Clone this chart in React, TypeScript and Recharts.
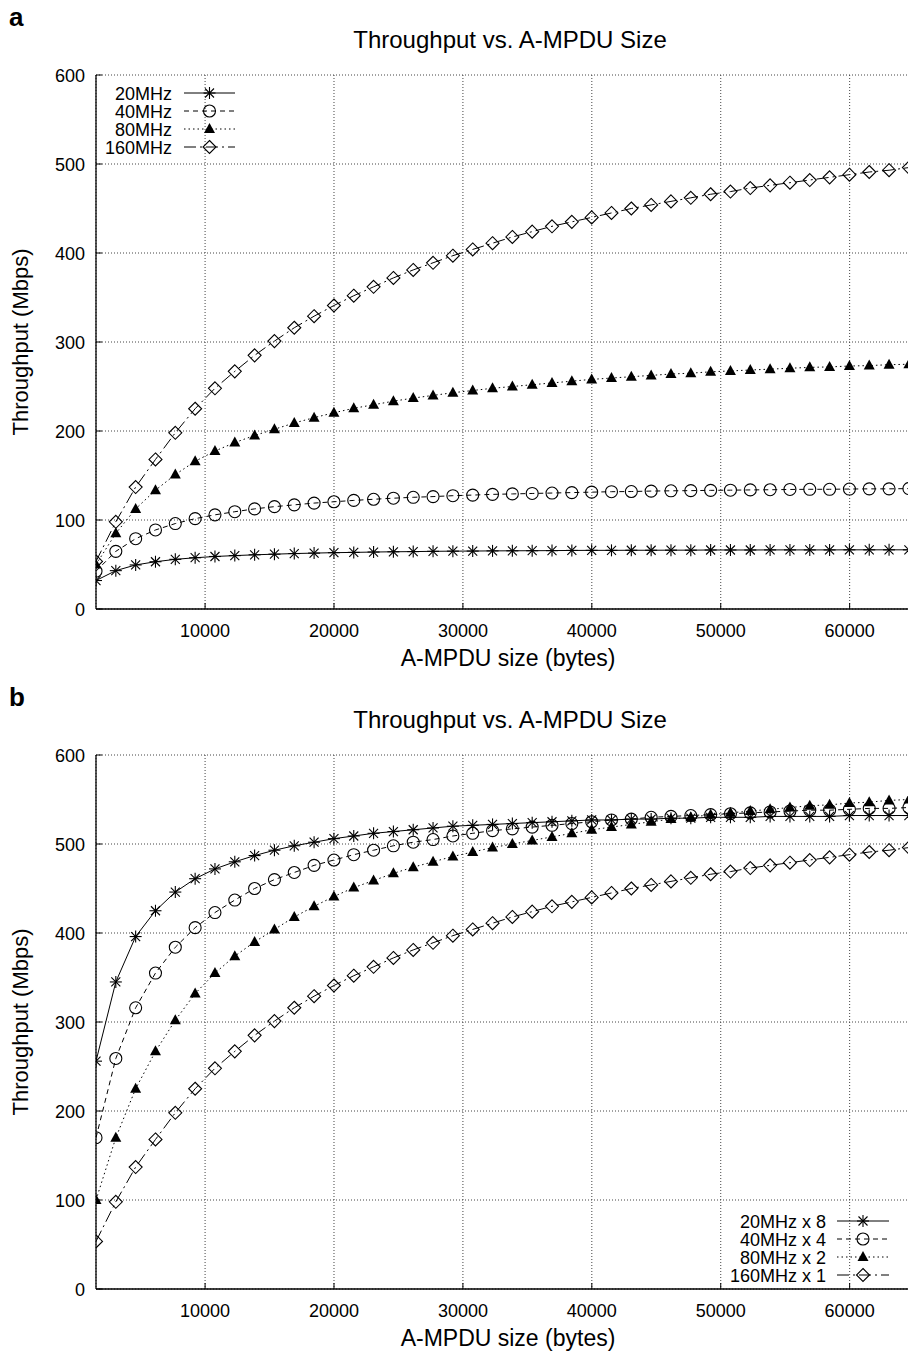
import React from "react"
import { LineChart, Line, XAxis, YAxis, CartesianGrid } from "recharts"

// A-MPDU sizes (bytes), one point per aggregated frame
const sizes = [
  1538, 3076, 4614, 6152, 7690, 9228, 10766, 12304, 13842, 15380,
  16918, 18456, 19994, 21532, 23070, 24608, 26146, 27684, 29222, 30760,
  32298, 33836, 35374, 36912, 38450, 39988, 41526, 43064, 44602, 46140,
  47678, 49216, 50754, 52292, 53830, 55368, 56906, 58444, 59982, 61520,
  63058, 64596,
]

// panel a: raw throughput (Mbps)
const a20 = [
  32.0, 43.1, 49.5, 53.1, 55.8, 57.6, 59.0, 60.0, 60.9, 61.6,
  62.3, 62.8, 63.3, 63.6, 64.0, 64.3, 64.5, 64.8, 65.0, 65.1,
  65.3, 65.4, 65.5, 65.6, 65.8, 65.9, 65.9, 66.0, 66.0, 66.1,
  66.1, 66.3, 66.3, 66.3, 66.4, 66.4, 66.4, 66.4, 66.5, 66.5,
  66.5, 66.5,
]
const a40 = [
  42.5, 64.8, 79.0, 88.8, 96.0, 101.5, 105.8, 109.3, 112.5, 115.0,
  117.0, 119.0, 120.5, 122.0, 123.3, 124.5, 125.5, 126.3, 127.3, 128.0,
  128.8, 129.3, 129.8, 130.3, 130.8, 131.3, 131.8, 132.0, 132.5, 132.8,
  133.0, 133.3, 133.5, 133.8, 134.0, 134.3, 134.5, 134.5, 134.8, 135.0,
  135.0, 135.3,
]
const a80 = [
  50, 85, 112.5, 133.5, 151, 166, 177.5, 187, 195, 202,
  209, 215, 220.5, 225.5, 229.5, 233.5, 237, 240, 243, 245.5,
  248, 250, 252, 254, 256, 258, 259.5, 261, 262.5, 264,
  265, 266.5, 267.5, 268.5, 269.5, 270.5, 271.5, 272, 273, 273.5,
  274.5, 275,
]
const t160 = [
  53.5, 98, 137, 168, 198, 225, 248, 267, 285, 301,
  316, 329, 341, 352, 362, 372, 381, 389, 397, 404,
  411, 418, 424, 430, 435, 440, 445, 450, 454, 458,
  462, 466, 469, 473, 476, 479, 482, 485, 488, 491,
  493, 496,
]

// panel b: throughput scaled by channel count
const b20x8 = [
  256, 345, 396, 425, 446, 461, 472, 480, 487, 493,
  498, 502, 506, 509, 512, 514, 516, 518, 520, 521,
  522, 523, 524, 525, 526, 527, 527, 528, 528, 529,
  529, 530, 530, 530, 531, 531, 531, 531, 532, 532,
  532, 532,
]
const b40x4 = [
  170, 259, 316, 355, 384, 406, 423, 437, 450, 460,
  468, 476, 482, 488, 493, 498, 502, 505, 509, 512,
  515, 517, 519, 521, 523, 525, 527, 528, 530, 531,
  532, 533, 534, 535, 536, 537, 538, 538, 539, 540,
  540, 541,
]
const b80x2 = [
  100, 170, 225, 267, 302, 332, 355, 374, 390, 404,
  418, 430, 441, 451, 459, 467, 474, 480, 486, 491,
  496, 500, 504, 508, 512, 516, 519, 522, 525, 528,
  530, 533, 535, 537, 539, 541, 543, 544, 546, 547,
  549, 550,
]

const xTicks = [10000, 20000, 30000, 40000, 50000, 60000]
const yTicks = [0, 100, 200, 300, 400, 500, 600]

const FONT = "'Liberation Sans', Arial, Helvetica, sans-serif"

type Shape = "star" | "circle" | "triangle" | "diamond"
type Series = { key: string; name: string; shape: Shape; dash?: string }

const seriesA: Series[] = [
  { key: "s20", name: "20MHz", shape: "star" },
  { key: "s40", name: "40MHz", shape: "circle", dash: "5 4" },
  { key: "s80", name: "80MHz", shape: "triangle", dash: "1.5 3" },
  { key: "s160", name: "160MHz", shape: "diamond", dash: "12 4 2 4" },
]
const seriesB: Series[] = [
  { key: "s20", name: "20MHz x 8", shape: "star" },
  { key: "s40", name: "40MHz x 4", shape: "circle", dash: "5 4" },
  { key: "s80", name: "80MHz x 2", shape: "triangle", dash: "1.5 3" },
  { key: "s160", name: "160MHz x 1", shape: "diamond", dash: "12 4 2 4" },
]

const dataA = sizes.map((size, i) => ({ size, s20: a20[i], s40: a40[i], s80: a80[i], s160: t160[i] }))
const dataB = sizes.map((size, i) => ({ size, s20: b20x8[i], s40: b40x4[i], s80: b80x2[i], s160: t160[i] }))

function Marker({ cx, cy, shape }: { cx: number; cy: number; shape: Shape }) {
  if (cx == null || cy == null || isNaN(cx) || isNaN(cy)) return null
  if (shape === "star") {
    return (
      <g stroke="#000" strokeWidth={1.1}>
        <line x1={cx - 6} y1={cy} x2={cx + 6} y2={cy} />
        <line x1={cx} y1={cy - 6} x2={cx} y2={cy + 6} />
        <line x1={cx - 4.5} y1={cy - 4.5} x2={cx + 4.5} y2={cy + 4.5} />
        <line x1={cx - 4.5} y1={cy + 4.5} x2={cx + 4.5} y2={cy - 4.5} />
      </g>
    )
  }
  if (shape === "circle") {
    return <circle cx={cx} cy={cy} r={6} fill="none" stroke="#000" strokeWidth={1.1} />
  }
  if (shape === "triangle") {
    return <polygon points={`${cx},${cy - 6} ${cx - 5.5},${cy + 4} ${cx + 5.5},${cy + 4}`} fill="#000" />
  }
  return (
    <polygon
      points={`${cx},${cy - 6.5} ${cx + 6.5},${cy} ${cx},${cy + 6.5} ${cx - 6.5},${cy}`}
      fill="none"
      stroke="#000"
      strokeWidth={1.1}
    />
  )
}

const BottomTick = (p: any) => (
  <g>
    <line x1={p.x} y1={p.y} x2={p.x} y2={p.y - 6} stroke="#000" />
    <text x={p.x} y={p.y + 28} textAnchor="middle" fontSize={18} fontFamily={FONT} fill="#000">
      {p.payload.value}
    </text>
  </g>
)
const TopTick = (p: any) => <line x1={p.x} y1={p.y} x2={p.x} y2={p.y + 6} stroke="#000" />
const LeftTick = (p: any) => (
  <g>
    <line x1={p.x} y1={p.y} x2={p.x + 6} y2={p.y} stroke="#000" />
    <text x={p.x - 11} y={p.y + 6.5} textAnchor="end" fontSize={18} fontFamily={FONT} fill="#000">
      {p.payload.value}
    </text>
  </g>
)
const RightTick = (p: any) => <line x1={p.x} y1={p.y} x2={p.x - 6} y2={p.y} stroke="#000" />

type KeyPos = { textRight: number; x1: number; x2: number; rows: number[] }

function Key({ series, pos }: { series: Series[]; pos: KeyPos }) {
  return (
    <svg width={908} height={680} style={{ position: "absolute", left: 0, top: 0, pointerEvents: "none" }}>
      {series.map((s, i) => {
        const y = pos.rows[i]
        return (
          <g key={s.key}>
            <text x={pos.textRight} y={y + 6.5} textAnchor="end" fontSize={18} fontFamily={FONT} fill="#000">
              {s.name}
            </text>
            <line x1={pos.x1} y1={y} x2={pos.x2} y2={y} stroke="#000" strokeWidth={1} strokeDasharray={s.dash} />
            <Marker cx={(pos.x1 + pos.x2) / 2} cy={y} shape={s.shape} />
          </g>
        )
      })}
    </svg>
  )
}

function Panel({ top, letter, data, series, keyPos }: {
  top: number; letter: string; data: any[]; series: Series[]; keyPos: KeyPos
}) {
  return (
    <div style={{ position: "absolute", left: 0, top, width: 908, height: 680 }}>
      <LineChart
        width={940}
        height={680}
        data={data}
        margin={{ top: 75, right: 19, bottom: 10, left: 0 }}
        style={{ position: "absolute", left: 0, top: 0 }}
      >
        <CartesianGrid stroke="#444" strokeDasharray="1 2" />
        <XAxis
          dataKey="size" type="number" domain={[1538, 65535]} allowDataOverflow
          ticks={xTicks} interval={0} height={61} tickSize={0} tickMargin={0} tickLine={false}
          tick={BottomTick} axisLine={{ stroke: "#000", strokeWidth: 1.3 }}
        />
        <XAxis
          xAxisId="top" orientation="top" dataKey="size" type="number" domain={[1538, 65535]} allowDataOverflow
          ticks={xTicks} interval={0} height={0} tickSize={0} tickMargin={0} tickLine={false}
          tick={TopTick} axisLine={{ stroke: "#000", strokeWidth: 1.3 }}
        />
        <YAxis
          domain={[0, 600]} ticks={yTicks} interval={0} width={96} tickSize={0} tickMargin={0} tickLine={false}
          tick={LeftTick} axisLine={{ stroke: "#000", strokeWidth: 1.3 }}
        />
        <YAxis
          yAxisId="right" orientation="right" domain={[0, 600]} ticks={yTicks} interval={0} width={0}
          tickSize={0} tickMargin={0} tickLine={false} tick={RightTick} axisLine={{ stroke: "#000", strokeWidth: 1.3 }}
        />
        {series.map((s) => (
          <Line
            key={s.key}
            dataKey={s.key}
            type="linear"
            stroke="#000"
            strokeWidth={1}
            strokeDasharray={s.dash}
            dot={(p: any) => <Marker key={`${s.key}-${p.index}`} cx={p.cx} cy={p.cy} shape={s.shape} />}
            activeDot={false}
            isAnimationActive={false}
          />
        ))}
      </LineChart>
      <Key series={series} pos={keyPos} />
      <div style={{ position: "absolute", left: 9, top: 2, fontFamily: FONT, fontWeight: "bold", fontSize: 26 }}>{letter}</div>
      <div
        style={{
          position: "absolute", left: 510, top: 40, transform: "translate(-50%, -50%)",
          fontFamily: FONT, fontSize: 24, whiteSpace: "nowrap",
        }}
      >
        Throughput vs. A-MPDU Size
      </div>
      <div
        style={{
          position: "absolute", left: 508, top: 658, transform: "translate(-50%, -50%)",
          fontFamily: FONT, fontSize: 23, whiteSpace: "nowrap",
        }}
      >
        A-MPDU size (bytes)
      </div>
      <div
        style={{
          position: "absolute", left: 21, top: 342, transform: "translate(-50%, -50%) rotate(-90deg)",
          fontFamily: FONT, fontSize: 22, whiteSpace: "nowrap",
        }}
      >
        Throughput (Mbps)
      </div>
    </div>
  )
}

export default function App() {
  return (
    <div style={{ position: "absolute", left: 0, top: 0, width: 908, height: 1351, overflow: "hidden", background: "#fff" }}>
      <Panel top={0} letter="a" data={dataA} series={seriesA} keyPos={{ textRight: 172, x1: 184, x2: 235, rows: [93, 111, 129, 147] }} />
      <Panel top={680} letter="b" data={dataB} series={seriesB} keyPos={{ textRight: 826, x1: 837, x2: 889, rows: [541, 559, 577, 595] }} />
    </div>
  )
}
